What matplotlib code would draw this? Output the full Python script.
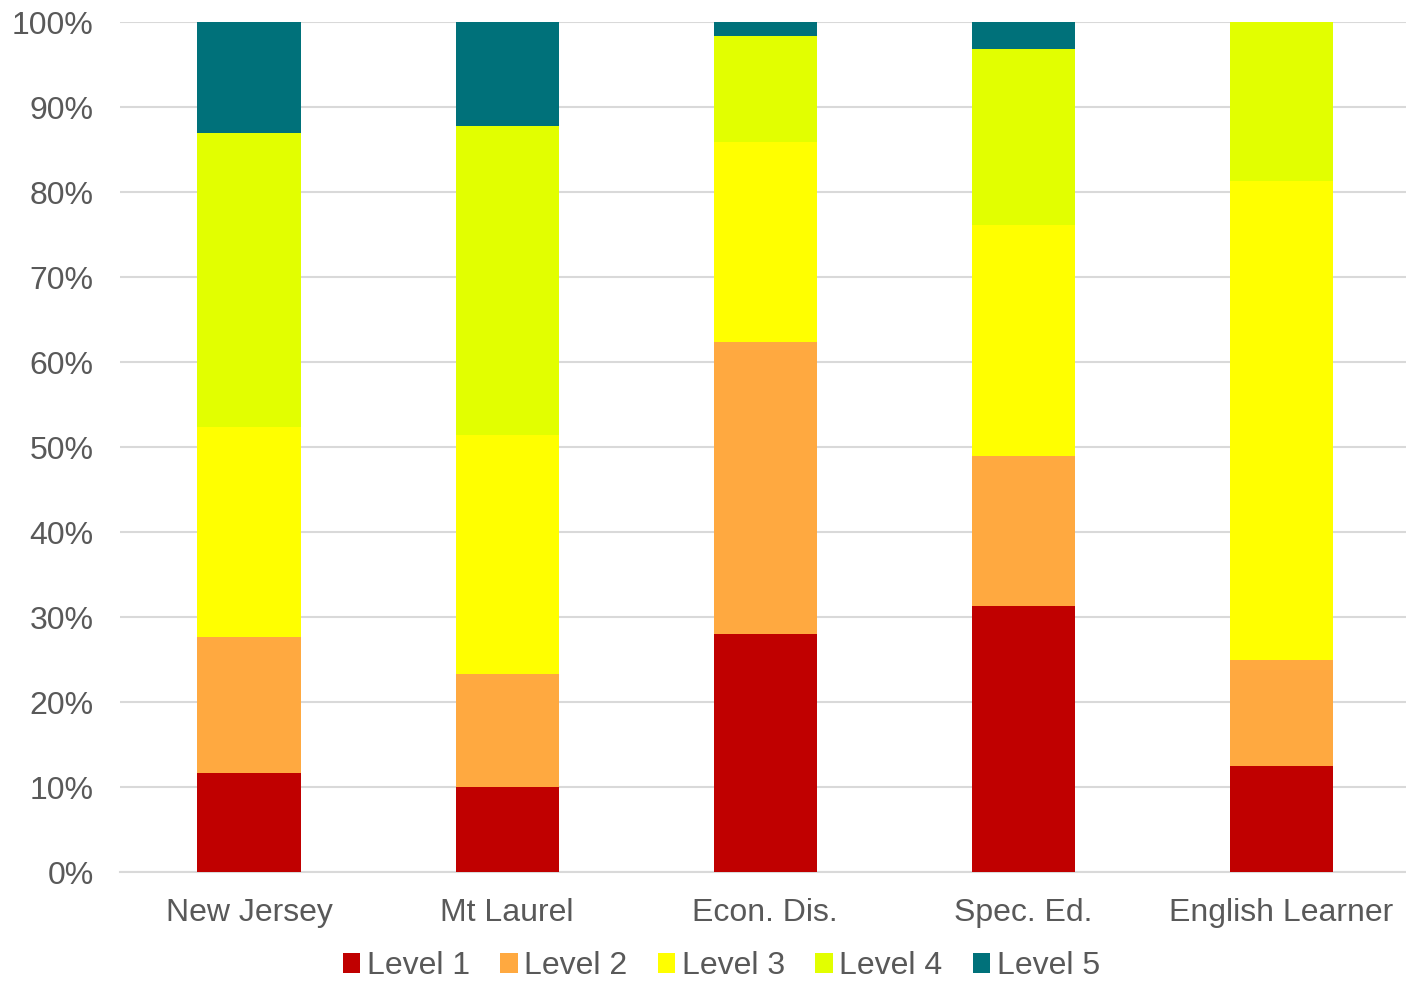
import numpy as np
import matplotlib.pyplot as plt
from matplotlib.ticker import PercentFormatter

plt.rcParams["font.family"] = ["Liberation Sans", "DejaVu Sans"]

# Data (percent of students per level)
groups = ["New Jersey", "Mt Laurel", "Econ. Dis.", "Spec. Ed.", "English Learner"]
level1 = [11.6, 10.0, 28.0, 31.3, 12.5]
level2 = [16.0, 13.3, 34.4, 17.6, 12.5]
level3 = [24.8, 28.1, 23.5, 27.2, 56.25]
level4 = [34.5, 36.4, 12.5, 20.7, 18.75]
level5 = [13.1, 12.2, 1.6, 3.2, 0.0]

series = [level1, level2, level3, level4, level5]
labels = ["Level 1", "Level 2", "Level 3", "Level 4", "Level 5"]
colors = ["#C00000", "#FFA940", "#FFFF00", "#E2FF00", "#00717A"]

fig = plt.figure(figsize=(14.06, 9.83), dpi=100)
ax = fig.add_axes([0.0853, 0.1129, 0.918, 0.8647])

x = np.arange(len(groups))
bottom = np.zeros(len(groups))
for vals, lab, col in zip(series, labels, colors):
    ax.bar(x, vals, width=0.4, bottom=bottom, color=col, label=lab, zorder=3)
    bottom += np.array(vals)

ax.set_xlim(-0.5, len(groups) - 0.5)
ax.set_ylim(0, 100)
ax.set_yticks(np.arange(0, 101, 10))
ax.yaxis.set_major_formatter(PercentFormatter(decimals=0))
ax.set_xticks(x)
ax.set_xticklabels(groups)
ax.grid(axis="y", color="#D9D9D9", linewidth=1.5, zorder=0)
for s in ["top", "right", "left"]:
    ax.spines[s].set_visible(False)
ax.spines["bottom"].set_color("#D9D9D9")
ax.spines["bottom"].set_linewidth(1.5)
ax.tick_params(axis="both", length=0, labelsize=23, colors="#595959")
ax.tick_params(axis="x", pad=19)
ax.tick_params(axis="y", pad=19)

handles, labs = ax.get_legend_handles_labels()
fig.legend(handles, labs, loc="center", bbox_to_anchor=(0.513, 0.017), ncol=5, frameon=False,
           fontsize=23, labelcolor="#595959", handlelength=0.55, handleheight=0.55,
           handletextpad=0.2, columnspacing=0.95, borderaxespad=0, borderpad=0)

fig.savefig("out.png", dpi=100)
